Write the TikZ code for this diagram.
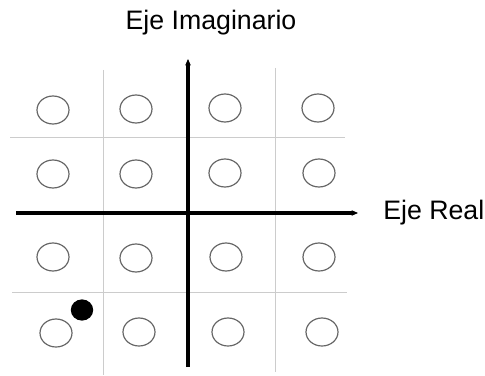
\documentclass[tikz,border=0pt]{standalone}
\usepackage{fontspec}
\setmainfont{Liberation Sans}
\usetikzlibrary{shapes.geometric,arrows.meta}
\tikzset{
  ring/.style={draw=black!60,ellipse,line width=0.85pt,inner sep=0pt,minimum width=8mm,minimum height=7mm},
  dot/.style={fill=black,ellipse,inner sep=0pt,minimum width=5.6mm,minimum height=5.3mm},
  axis/.style={line width=2.6pt,-{Stealth[length=1.6mm,width=1.4mm]}},
  gline/.style={draw=black!20,line width=0.6pt},
  lbl/.style={font=\fontsize{19}{22}\selectfont,inner sep=0pt}
}
\begin{document}
\begin{tikzpicture}[x=0.25mm,y=-0.25mm]
\useasboundingbox (0,0) rectangle (485,375);
% grid
\coordinate (v1t) at (103,70); \coordinate (v1b) at (103,375);
\coordinate (v2t) at (275,68); \coordinate (v2b) at (275,372);
\coordinate (h1l) at (10,137); \coordinate (h1r) at (345,137);
\coordinate (h2l) at (12,292); \coordinate (h2r) at (347,292);
\draw[gline] (v1t) -- (v1b);
\draw[gline] (v2t) -- (v2b);
\draw[gline] (h1l) -- (h1r);
\draw[gline] (h2l) -- (h2r);
% symbols
\node[ring] (c11) at (53,110) {};
\node[ring] (c12) at (136,109) {};
\node[ring] (c13) at (225,108) {};
\node[ring] (c14) at (318,108) {};
\node[ring] (c21) at (53,174) {};
\node[ring] (c22) at (136,174) {};
\node[ring] (c23) at (225,173) {};
\node[ring] (c24) at (319,173) {};
\node[ring] (c31) at (53,257) {};
\node[ring] (c32) at (136,258) {};
\node[ring] (c33) at (226,257) {};
\node[ring] (c34) at (319,257) {};
\node[ring] (c41) at (56,333) {};
\node[ring] (c42) at (139,332) {};
\node[ring] (c43) at (228,332) {};
\node[ring] (c44) at (322,332) {};
\node[dot] (rx) at (82,310) {};
% axes
\coordinate (re0) at (16,213); \coordinate (re1) at (358,213);
\coordinate (im0) at (188,367); \coordinate (im1) at (188,59);
\draw[axis] (re0) -- (re1);
\draw[axis] (im0) -- (im1);
\node[lbl] (tim) at (211,23) {Eje Imaginario};
\node[lbl,anchor=west] (tre) at (383,213) {Eje Real};
\end{tikzpicture}
\end{document}
